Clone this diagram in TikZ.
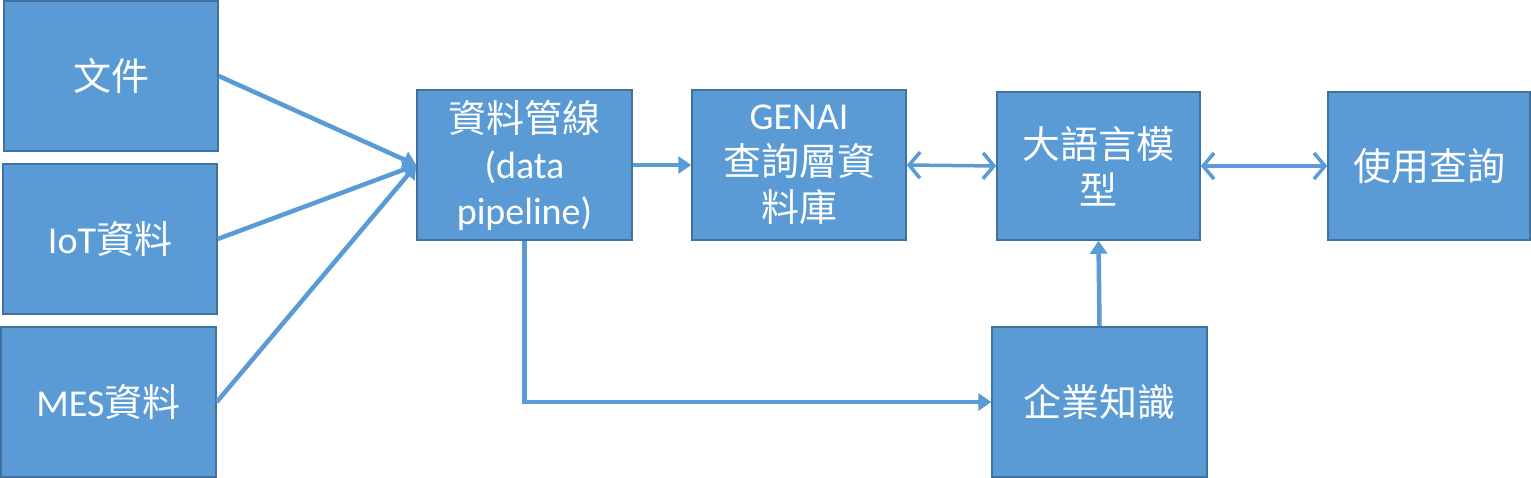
\documentclass[tikz,border=0pt]{standalone}
\usepackage{fontspec}
\setmainfont{Carlito}
\newfontfamily\cjk{Noto Sans CJK TC}
\usetikzlibrary{arrows.meta}
\definecolor{boxfill}{HTML}{5B9BD5}
\definecolor{boxline}{HTML}{41719C}
\definecolor{conn}{HTML}{5B9BD5}
\newcommand{\cj}[1]{{\cjk #1}}
\begin{document}
\begin{tikzpicture}[x=1pt,y=-1pt,
  blk/.style={draw=boxline,line width=1.5pt,fill=boxfill,rectangle,inner sep=0pt,
    text=white,align=center,font=\fontsize{38}{46}\selectfont},
  conline/.style={draw=conn,line width=4.5pt},
  filltip/.style={-{Triangle[width=17pt,length=13pt]}},
  bitip/.style={{Straight Barb[width=26pt,length=11pt]}-{Straight Barb[width=26pt,length=11pt]}}
]
\useasboundingbox (0,0) rectangle (1531,478);
\fill[white] (0,0) rectangle (1531,478);
\node[blk,minimum width=214pt,minimum height=150pt] (f1) at (111,76) {\cj{文件}};
\node[blk,minimum width=214pt,minimum height=150pt] (f2) at (110,239) {IoT\cj{資料}};
\node[blk,minimum width=215pt,minimum height=150pt] (f3) at (108.5,402) {MES\cj{資料}};
\node[blk,minimum width=215pt,minimum height=150pt] (dp) at (524.5,165) {\cj{資料管線}\\(data\\pipeline)};
\node[blk,minimum width=214pt,minimum height=150pt] (gen) at (799,165) {GENAI\\\cj{查詢層資}\\\cj{料庫}};
\node[blk,minimum width=203pt,minimum height=148pt] (llm) at (1098.5,166) {\raisebox{-8pt}{\parbox{200pt}{\centering\cj{大語言模}\\\cj{型}}}};
\node[blk,minimum width=202pt,minimum height=148pt] (use) at (1429,166) {\cj{使用查詢}};
\node[blk,minimum width=215pt,minimum height=150pt] (ek) at (1099.5,402) {\cj{企業知識}};

\draw[conline,filltip] (f1.east) -- (dp.west);
\draw[conline,filltip] (f2.east) -- (dp.west);
\draw[conline,filltip] (f3.east) -- (dp.west);
\draw[conline,filltip] (dp.east) -- (gen.west);
\draw[conn,line width=3.5pt,bitip] (gen.east) -- (llm.west);
\draw[conn,line width=3.5pt,bitip] (llm.east) -- (use.west);
\draw[conline,filltip] (ek.north) -- (llm.south);
\draw[conline,filltip] (dp.south) |- (ek.west);
\end{tikzpicture}
\end{document}
